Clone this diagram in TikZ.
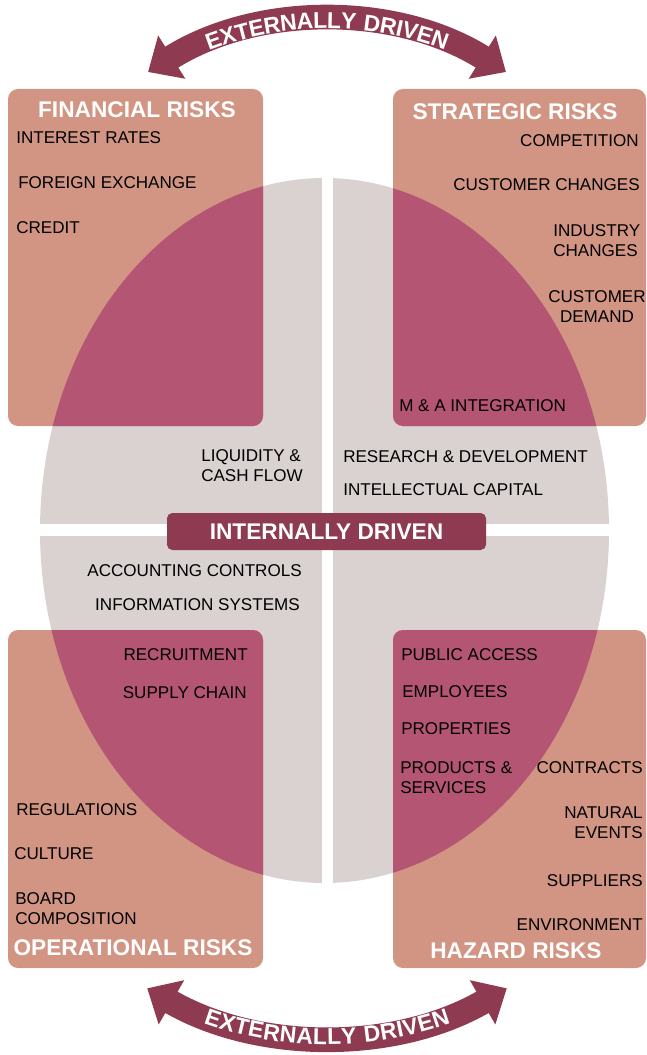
\documentclass[tikz,border=0pt]{standalone}
\usepackage{fontspec}
\setmainfont{Liberation Sans}
\usetikzlibrary{arrows.meta,decorations.text}
\definecolor{salmon}{HTML}{D29584}
\definecolor{berry}{HTML}{B45574}
\definecolor{greyish}{HTML}{DAD1D1}
\definecolor{maroon}{HTML}{8E3A50}
\newcommand{\arcfont}{\bfseries\fontsize{17.2}{20}\selectfont\addfontfeature{LetterSpace=5}\color{white}}
\begin{document}
\begin{tikzpicture}[x=0.75pt,y=-0.75pt,
  item/.style={inner sep=0pt, font=\fontsize{12.8}{15}\selectfont, text=black},
  ttl/.style={inner sep=0pt, font=\bfseries\fontsize{17}{20}\selectfont, text=white},
  riskbox/.style={fill=salmon, rounded corners=7.5pt},
  overlap/.style={fill=berry, rounded corners=7.5pt},
  band/.style={draw=maroon, line width=18.5pt,
    {Triangle[width=37pt,length=21pt]}-{Triangle[width=37pt,length=21pt]}},
  arctext/.style={decorate, decoration={text along path, text align=center, raise=-6.1pt}}]
\useasboundingbox (0,0) rectangle (646,1055);

% ellipse with white gaps
\fill[greyish] (324.5,530.5) ellipse [x radius=284.5, y radius=352.5];
\fill[white] (322,160) rectangle (333,900);
\fill[white] (20,524) rectangle (630,536);

% risk boxes
\fill[riskbox] (8,89) rectangle (263,426);
\fill[riskbox] (393,89) rectangle (646,426);
\fill[riskbox] (8,630) rectangle (263,968);
\fill[riskbox] (393,630) rectangle (646,968);

% overlaps
\begin{scope}
\clip (324.5,530.5) ellipse [x radius=284.5, y radius=352.5];
\fill[overlap] (8,89) rectangle (263,426);
\fill[overlap] (393,89) rectangle (646,426);
\fill[overlap] (8,630) rectangle (263,968);
\fill[overlap] (393,630) rectangle (646,968);
\end{scope}

% external arrows
\draw[band] ([shift={(327,357.3)}]-122.1:336.8) arc[start angle=-122.1, end angle=-57.9, radius=336.8];
\path[arctext, decoration={text={|\arcfont|EXTERNALLY DRIVEN}}]
  ([shift={(327,357.3)}]-122.1:336.8) arc[start angle=-122.1, end angle=-57.9, radius=336.8];
\draw[band] ([shift={(327,676.9)}]120:359.6) arc[start angle=120, end angle=60, radius=359.6];
\path[arctext, decoration={text={|\arcfont|EXTERNALLY DRIVEN}}]
  ([shift={(327,676.9)}]120:359.6) arc[start angle=120, end angle=60, radius=359.6];

% central box
\node[ttl, fill=maroon, rounded corners=4pt, minimum width=239.25pt, minimum height=27.75pt] (intd) at (326.5,531.5) {INTERNALLY DRIVEN};

% titles
\node[ttl] (fint) at (137,110) {FINANCIAL RISKS};
\node[ttl] (strt) at (515,112) {STRATEGIC RISKS};
\node[ttl] (opt) at (133,948) {OPERATIONAL RISKS};
\node[ttl] (hzt) at (516,951) {HAZARD RISKS};

% financial
\node[item, anchor=west] (fin1) at (16,138) {INTEREST RATES};
\node[item, anchor=west] (fin2) at (18,183) {FOREIGN EXCHANGE};
\node[item, anchor=west] (fin3) at (16,228) {CREDIT};

% strategic
\node[item, anchor=east] (str1) at (639,141) {COMPETITION};
\node[item, anchor=east] (str2) at (640,185) {CUSTOMER CHANGES};
\node[item, anchor=west, align=left] (str3) at (553,241) {INDUSTRY\\CHANGES};
\node[item, align=center] (str4) at (597,306.5) {CUSTOMER\\DEMAND};
\node[item, anchor=west] (str5) at (399,406) {M \& A INTEGRATION};

% internal
\node[item, anchor=west, align=left] (mid1) at (201,466) {LIQUIDITY \&\\CASH FLOW};
\node[item, anchor=west] (mid2) at (343,457) {RESEARCH \& DEVELOPMENT};
\node[item, anchor=west] (mid3) at (343,490) {INTELLECTUAL CAPITAL};
\node[item, anchor=east] (mid4) at (302,571) {ACCOUNTING CONTROLS};
\node[item, anchor=east] (mid5) at (300,605) {INFORMATION SYSTEMS};

% operational
\node[item, anchor=east] (op1) at (248,655) {RECRUITMENT};
\node[item, anchor=east] (op2) at (247,693) {SUPPLY CHAIN};
\node[item, anchor=west] (op3) at (16,810) {REGULATIONS};
\node[item, anchor=west] (op4) at (14,854) {CULTURE};
\node[item, anchor=west, align=left] (op5) at (15,909) {BOARD\\COMPOSITION};

% hazard
\node[item, anchor=west] (hz1) at (401,655) {PUBLIC ACCESS};
\node[item, anchor=west] (hz2) at (402,692) {EMPLOYEES};
\node[item, anchor=west] (hz3) at (401,729) {PROPERTIES};
\node[item, anchor=west, align=left] (hz4) at (400,778) {PRODUCTS \&\\SERVICES};
\node[item, anchor=east] (hz5) at (643,768) {CONTRACTS};
\node[item, anchor=east, align=right] (hz6) at (643,823) {NATURAL\\EVENTS};
\node[item, anchor=east] (hz7) at (643,881) {SUPPLIERS};
\node[item, anchor=east] (hz8) at (643,925) {ENVIRONMENT};
\end{tikzpicture}
\end{document}
